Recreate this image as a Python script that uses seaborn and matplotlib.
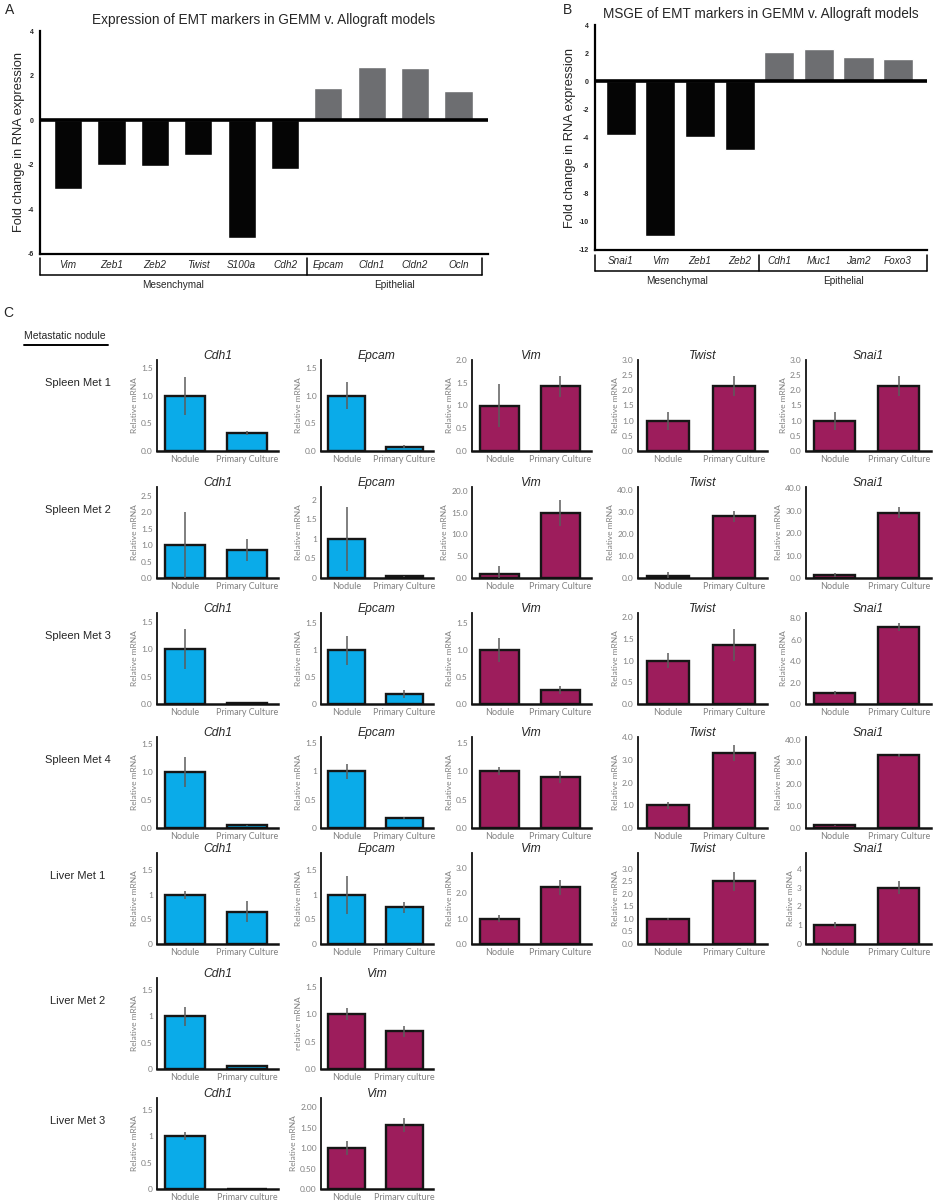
import numpy as np
import matplotlib
matplotlib.use("Agg")
import matplotlib.pyplot as plt
import matplotlib.transforms as mtransforms
from matplotlib.lines import Line2D
import seaborn as sns

sns.set_style("white")
plt.rcParams['font.family'] = ['Liberation Sans', 'DejaVu Sans']

# ---- panel A / B: fold change
a_genes = ["Vim", "Zeb1", "Zeb2", "Twist", "S100a", "Cdh2", "Epcam", "Cldn1", "Cldn2", "Ocln"]
a_fold = [-3.1, -2.0, -2.05, -1.55, -5.3, -2.2, 1.45, 2.4, 2.35, 1.3]
a_group = ["Mesenchymal"] * 6 + ["Epithelial"] * 4

b_genes = ["Snai1", "Vim", "Zeb1", "Zeb2", "Cdh1", "Muc1", "Jam2", "Foxo3"]
b_fold = [-3.8, -11.0, -3.95, -4.9, 2.1, 2.3, 1.7, 1.6]
b_group = ["Mesenchymal"] * 4 + ["Epithelial"] * 4

# ---- panel C: relative mRNA, nodule vs primary culture
row_labels = ["Spleen Met 1", "Spleen Met 2", "Spleen Met 3", "Spleen Met 4",
              "Liver Met 1", "Liver Met 2", "Liver Met 3"]
five = ["Cdh1", "Epcam", "Vim", "Twist", "Snai1"]
row_genes = [five] * 5 + [["Cdh1", "Vim"]] * 2

nodule_mean = [
    [1.0, 1.0, 1.0, 1.0, 1.0],
    [1.0, 1.0, 1.0, 1.0, 1.3],
    [1.0, 1.0, 1.0, 1.0, 1.0],
    [1.0, 1.0, 1.0, 1.0, 1.2],
    [1.0, 1.0, 1.0, 1.0, 1.0],
    [1.0, 1.0],
    [1.0, 1.0]]
nodule_err = [
    [0.35, 0.24, 0.47, 0.30, 0.30],
    [1.0, 0.81, 1.7, 1.8, 0.8],
    [0.37, 0.27, 0.22, 0.18, 0.20],
    [0.27, 0.13, 0.07, 0.15, 0.30],
    [0.08, 0.38, 0.13, 0.05, 0.15],
    [0.18, 0.11],
    [0.08, 0.17]]
culture_mean = [
    [0.33, 0.08, 1.42, 2.15, 2.15],
    [0.85, 0.04, 15.0, 28.0, 29.0],
    [0.02, 0.19, 0.26, 1.37, 7.2],
    [0.05, 0.18, 0.90, 3.3, 33.0],
    [0.66, 0.75, 2.25, 2.5, 3.0],
    [0.05, 0.69],
    [0.003, 1.56]]
culture_err = [
    [0.04, 0.03, 0.23, 0.33, 0.33],
    [0.33, 0.01, 3.0, 2.5, 2.4],
    [0.005, 0.07, 0.08, 0.37, 0.4],
    [0.01, 0.02, 0.11, 0.37, 0.5],
    [0.21, 0.11, 0.30, 0.37, 0.35],
    [0.0, 0.10],
    [0.0, 0.17]]
y_limit = [
    [1.65, 1.64, 2.0, 3.0, 3.0],
    [2.77, 2.33, 20.9, 41.2, 40.5],
    [1.66, 1.69, 1.69, 2.1, 8.5],
    [1.62, 1.6, 1.6, 4.0, 41.4],
    [1.85, 1.85, 3.6, 3.63, 4.84],
    [1.72, 1.66],
    [1.72, 2.23]]
y_top_tick = [
    [1.5, 1.5, 2.0, 3.0, 3.0],
    [2.5, 2.0, 20.0, 40.0, 40.0],
    [1.5, 1.5, 1.5, 2.0, 8.0],
    [1.5, 1.5, 1.5, 4.0, 40.0],
    [1.5, 1.5, 3.0, 3.0, 4.0],
    [1.5, 1.5],
    [1.5, 2.0]]
y_step = [
    [0.5, 0.5, 0.5, 0.5, 0.5],
    [0.5, 0.5, 5.0, 10.0, 10.0],
    [0.5, 0.5, 0.5, 0.5, 2.0],
    [0.5, 0.5, 0.5, 1.0, 10.0],
    [0.5, 0.5, 1.0, 0.5, 1.0],
    [0.5, 0.5],
    [0.5, 0.5]]
tick_fmt = [
    [".1f", ".1f", ".1f", ".1f", ".1f"],
    [".1f", "g", ".1f", ".1f", ".1f"],
    [".1f", "g", ".1f", ".1f", ".1f"],
    [".1f", "g", ".1f", ".1f", ".1f"],
    ["g", "g", ".1f", ".1f", "g"],
    ["g", ".1f"],
    ["g", ".2f"]]
culture_label = ["Primary Culture"] * 5 + ["Primary culture"] * 2
mrna_label = [["Relative mRNA"] * 5] * 5 + [["Relative mRNA", "relative mRNA"],
                                           ["Relative mRNA", "Relative mRNA"]]

W, H = 949, 1200
BLUE = "#0AABE9"
PLUM = "#9D1D5C"
GREY_TXT = "#808080"

fig = plt.figure(figsize=(W / 100, H / 100), dpi=100)


def px_rect(x0, top, width, height):
    return [x0 / W, 1 - (top + height) / H, width / W, height / H]


def fold_panel(rect, genes, fold, group, ylo, title, split, bar_w, right_pad, bracket_r):
    ax = fig.add_axes(rect)
    n = len(genes)
    sns.barplot(x=genes, y=fold, hue=group, dodge=False, legend=False,
                palette={"Mesenchymal": "#050505", "Epithelial": "#6d6e71"},
                saturation=1, width=bar_w, errorbar=None, ax=ax)
    ax.axhline(0, color="black", lw=2.6, zorder=4)
    ax.set_xlim(-0.65, n - 1 + right_pad)
    ax.set_ylim(ylo, 4)
    sns.despine(ax=ax)
    for s in ("left", "bottom"):
        ax.spines[s].set_linewidth(1.6)
        ax.spines[s].set_color("black")
    ax.set_yticks(np.arange(ylo, 5, 2))
    ax.set_yticklabels([f"{v:d}" for v in np.arange(ylo, 5, 2)],
                       fontsize=5, fontweight="bold")
    ax.set_xticks(range(n))
    ax.set_xticklabels(genes, style="italic", fontsize=7.2)
    ax.tick_params(axis="both", length=3, width=1.3, pad=1.5, color="black")
    ax.set_xlabel("")
    ax.set_ylabel("Fold change in RNA expression", fontsize=9.3, labelpad=2)
    ax.set_title(title, fontsize=9.8, pad=5)

    # group bracket under the tick labels
    tr = mtransforms.blended_transform_factory(ax.transData, ax.transAxes)
    xl = ax.get_xlim()[0]
    mid = split - 0.5
    yb, yt = -0.095, -0.02
    ax.plot([xl, bracket_r], [yb, yb], color="black", lw=1.1, transform=tr, clip_on=False)
    for xv in (xl, mid, bracket_r):
        ax.plot([xv, xv], [yb, yt], color="black", lw=1.1, transform=tr, clip_on=False)
    ax.text((xl + mid) / 2, -0.14, "Mesenchymal", transform=tr, ha="center",
            va="center", fontsize=7.2)
    ax.text((mid + bracket_r) / 2, -0.14, "Epithelial", transform=tr, ha="center",
            va="center", fontsize=7.2)
    return ax


fold_panel(px_rect(40, 31, 448, 223), a_genes, a_fold, a_group, -6,
           "Expression of EMT markers in GEMM v. Allograft models", 6, 0.65, 0.68, 9.54)
fold_panel(px_rect(595, 25, 332, 225), b_genes, b_fold, b_group, -12,
           "MSGE of EMT markers in GEMM v. Allograft models", 4, 0.76, 0.73, 7.73)

fig.text(5 / W, 1 - 10 / H, "A", fontsize=10, va="center")
fig.text(563 / W, 1 - 10 / H, "B", fontsize=10, va="center")
fig.text(3 / W, 1 - 313 / H, "C", fontsize=10, va="center")

fig.text(24 / W, 1 - 336 / H, "Metastatic nodule", fontsize=7.5, va="center")
fig.add_artist(Line2D([24 / W, 108 / W], [1 - 345 / H, 1 - 345 / H],
                      color="black", lw=1.4))

COL_X = [157, 321, 472, 638, 806]
COL_W = [121, 112, 119, 129, 125]
ROW_TOP = [360, 487, 613, 737, 853, 978, 1098]
PANEL_H = 91


def expr_panel(x0, top, width, gene, nod, cul, nod_sd, cul_sd,
               ymax, ytop, ystep, fmt, cul_lab, ylab):
    ax = fig.add_axes(px_rect(x0, top, width, PANEL_H))
    color = BLUE if gene in ("Cdh1", "Epcam") else PLUM
    cats = ["Nodule", cul_lab]
    sns.barplot(x=cats, y=[nod, cul], color=color, saturation=1,
                edgecolor="#161616", linewidth=1.7, width=0.64,
                errorbar=None, ax=ax)
    ax.errorbar([0, 1], [nod, cul], yerr=[nod_sd, cul_sd], fmt="none",
                ecolor="#5c5c5c", elinewidth=1.1, capsize=0, zorder=5)
    ax.set_xlim(-0.45, 1.5)
    ax.set_ylim(0, ymax)
    sns.despine(ax=ax)
    ax.spines["left"].set_linewidth(1.3)
    ax.spines["left"].set_color("#111111")
    ax.spines["bottom"].set_linewidth(1.8)
    ax.spines["bottom"].set_color("#111111")
    ticks = np.arange(0, ytop + ystep / 2, ystep)
    ax.set_yticks(ticks)
    ax.set_yticklabels([format(v, fmt) for v in ticks], fontsize=6,
                       color=GREY_TXT, family="Lato")
    ax.set_xticks([0, 1])
    ax.set_xticklabels(cats, fontsize=6.5, color=GREY_TXT, family="Lato")
    ax.tick_params(length=0, pad=3)
    ax.set_xlabel("")
    ax.set_ylabel(ylab, fontsize=6, color=GREY_TXT, family="Lato", labelpad=2)
    ax.set_title(gene, style="italic", fontsize=8.7, pad=1)


for r, label in enumerate(row_labels):
    top = ROW_TOP[r]
    fig.text(78 / W, 1 - (top + 23) / H, label, fontsize=8, ha="center", va="center")
    for c, gene in enumerate(row_genes[r]):
        expr_panel(COL_X[c], top, COL_W[c], gene,
                   nodule_mean[r][c], culture_mean[r][c],
                   nodule_err[r][c], culture_err[r][c],
                   y_limit[r][c], y_top_tick[r][c], y_step[r][c],
                   tick_fmt[r][c], culture_label[r], mrna_label[r][c])

fig.savefig("out.png", dpi=100)
